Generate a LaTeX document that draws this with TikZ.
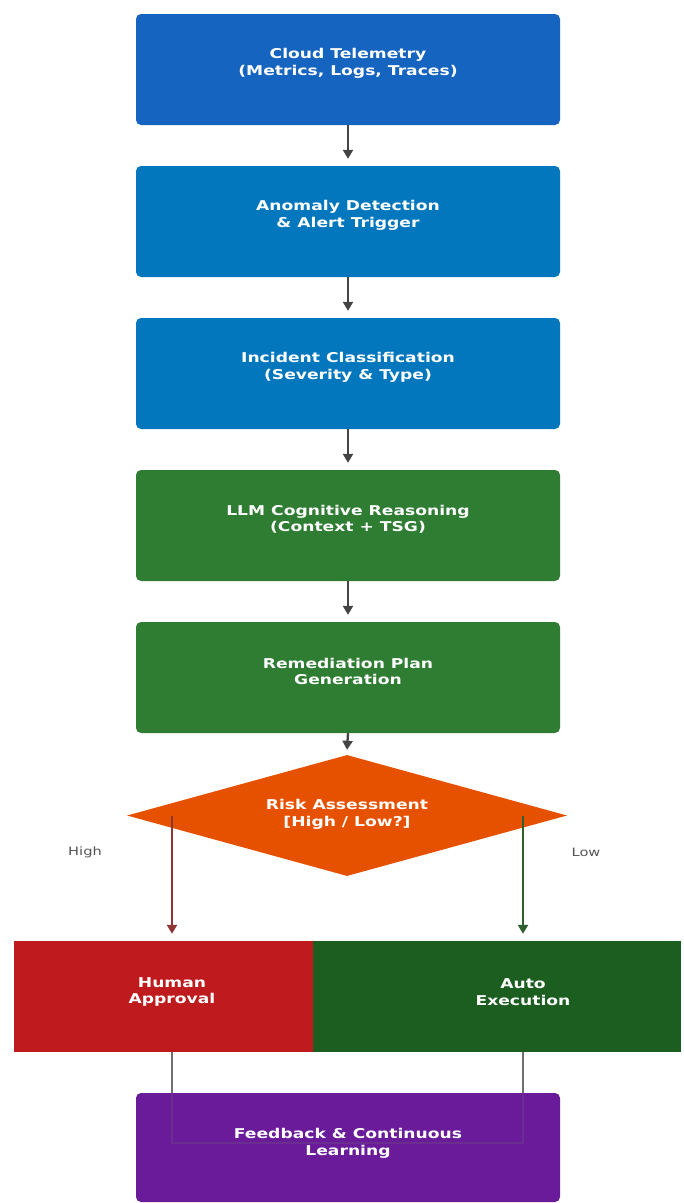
\documentclass[tikz,border=0pt]{standalone}
\usepackage{fontspec}
\newfontfamily\dejav[FakeStretch=1.27]{DejaVu Sans}
\usetikzlibrary{shapes.geometric,arrows.meta}
\definecolor{cblueA}{HTML}{1565C0}
\definecolor{cblueB}{HTML}{0277BD}
\definecolor{cgreen}{HTML}{2E7D32}
\definecolor{corange}{HTML}{E65100}
\definecolor{cred}{HTML}{BF1B1E}
\definecolor{cdgreen}{HTML}{1B5E20}
\definecolor{cpurple}{HTML}{6A1B9A}
\definecolor{arrowgray}{HTML}{444444}
\definecolor{linegray}{HTML}{707070}
\definecolor{lblgray}{HTML}{555555}
\definecolor{arrred}{HTML}{8E3535}
\definecolor{arrgreen}{HTML}{2F5F2F}
\begin{document}
\begin{tikzpicture}[x=1pt,y=-1pt,
  txt/.style={text=white, font=\dejav\bfseries\fontsize{13.5}{16.5}\selectfont, align=center, inner sep=0pt},
  box/.style={rectangle, rounded corners=5pt, minimum width=424pt, minimum height=111pt, inner sep=0pt},
  halfbox/.style={rectangle, minimum height=111pt, inner sep=0pt},
  decision/.style={diamond, fill=corange, minimum width=440pt, minimum height=121pt, inner sep=0pt, aspect=3.6},
  flow/.style={draw=arrowgray, line width=2.3pt, -{Triangle[length=9pt,width=10pt]}},
  branch/.style={line width=2.2pt, -{Triangle[length=9pt,width=10pt]}},
  merge/.style={draw=linegray, line width=2.2pt},
  side/.style={text=lblgray, font=\dejav\fontsize{11.5}{14}\selectfont}]
\useasboundingbox (0,0) rectangle (684,1203);
\fill[white] (0,0) rectangle (684,1203);

\coordinate (hx) at (172,0);
\coordinate (lx) at (523,0);

\node[box, fill=cblueA] (b1) at (348,69.5) {};
\node[txt] (t1) at ([yshift=6pt]b1.center) {Cloud Telemetry\\(Metrics, Logs, Traces)};
\node[box, fill=cblueB] (b2) at (348,221.5) {};
\node[txt] (t2) at ([yshift=6pt]b2.center) {Anomaly Detection\\\& Alert Trigger};
\node[box, fill=cblueB] (b3) at (348,373.5) {};
\node[txt] (t3) at ([yshift=6pt]b3.center) {Incident Classification\\(Severity \& Type)};
\node[box, fill=cgreen] (b4) at (348,525.5) {};
\node[txt] (t4) at ([yshift=6pt]b4.center) {LLM Cognitive Reasoning\\(Context + TSG)};
\node[box, fill=cgreen] (b5) at (348,677.5) {};
\node[txt] (t5) at ([yshift=6pt]b5.center) {Remediation Plan\\Generation};

\node[decision] (risk) at (347,815.5) {};
\node[txt] (tr) at ([yshift=1pt]risk.center) {Risk Assessment\\{[High / Low?]}};

\node[halfbox, fill=cred, minimum width=299pt] (human) at (163.5,996.5) {};
\node[txt] (th) at ([yshift=4.5pt]human.center -| hx) {Human\\Approval};
\node[halfbox, fill=cdgreen, minimum width=368pt] (auto) at (497,996.5) {};
\node[txt] (ta) at ([yshift=4.5pt]auto.center -| lx) {Auto\\Execution};

\coordinate (mh) at (172,1143);
\coordinate (ml) at (523,1143);
\draw[merge] (human.south -| hx) -- (mh) -- (ml) -- (auto.south -| lx);

\node[box, fill=cpurple, minimum height=109pt] (fb) at (348,1147.5) {};
\begin{scope}
  \clip (fb.south west) rectangle (fb.north east);
  \draw[merge, opacity=0.22] (human.south -| hx) -- (mh) -- (ml) -- (auto.south -| lx);
\end{scope}
\node[txt] (tf) at ([yshift=4pt]fb.center) {Feedback \& Continuous\\Learning};

\draw[flow] (b1.south) -- ([yshift=7pt]b2.north);
\draw[flow] (b2.south) -- ([yshift=7pt]b3.north);
\draw[flow] (b3.south) -- ([yshift=7pt]b4.north);
\draw[flow] (b4.south) -- ([yshift=7pt]b5.north);
\draw[flow] (b5.south) -- ([yshift=5pt]risk.north);

\draw[branch, draw=arrred] (risk.center -| hx) -- ([yshift=7pt]human.north -| hx);
\draw[branch, draw=arrgreen] (risk.center -| lx) -- ([yshift=7pt]auto.north -| lx);

\node[side] (lh) at (85,852) {High};
\node[side] (ll) at (586,852) {Low};
\end{tikzpicture}
\end{document}
